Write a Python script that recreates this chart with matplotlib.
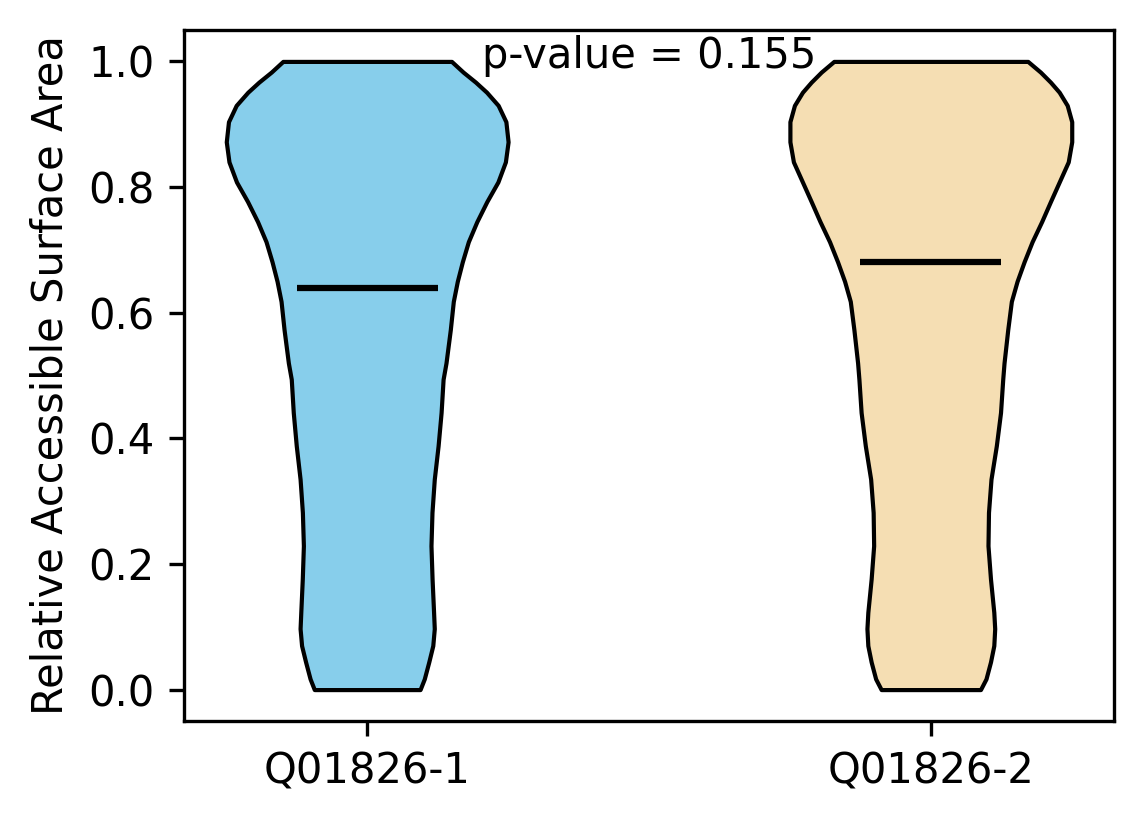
import numpy as np
import matplotlib
matplotlib.use("Agg")
import matplotlib.pyplot as plt

categories = ["Q01826-1", "Q01826-2"]
colors = ["#87CEEB", "#F5DEB3"]

# Violin outlines: y levels and relative half-widths
y1 = [0.000, 0.017, 0.044, 0.070, 0.097, 0.123, 0.176, 0.229, 0.282, 0.335,
      0.388, 0.441, 0.494, 0.520, 0.573, 0.618, 0.650, 0.681, 0.713, 0.745,
      0.777, 0.808, 0.840, 0.872, 0.904, 0.930, 0.951, 0.967, 0.983, 1.000]
w1 = [52.8, 57, 61.5, 65.5, 67, 66.3, 64.8, 63.7, 64.7, 67,
      70.8, 73.8, 75.8, 78.7, 83, 86, 90, 95, 101, 109.5,
      119.5, 130.5, 138, 140.7, 138.5, 130.8, 119.2, 108.2, 95.8, 84.2]

y2 = [0.000, 0.017, 0.044, 0.070, 0.097, 0.123, 0.176, 0.229, 0.282, 0.335,
      0.388, 0.441, 0.494, 0.520, 0.573, 0.618, 0.650, 0.681, 0.713, 0.745,
      0.777, 0.808, 0.840, 0.872, 0.904, 0.930, 0.951, 0.967, 0.983, 1.000]
w2 = [49.5, 55, 59.5, 62.8, 63.7, 62.8, 59.5, 57, 57.5, 60,
      65.3, 69.5, 71.7, 73, 76.7, 80.3, 86, 93, 101, 110.5,
      119.3, 128, 137, 140.5, 140.5, 136, 128, 119.3, 109.3, 96.7]

medians = [0.640, 0.681]
p_value = 0.155

vpstats = []
for ys, ws, med in [(y1, w1, medians[0]), (y2, w2, medians[1])]:
    vpstats.append({
        "coords": np.array(ys),
        "vals": np.array(ws, dtype=float),
        "mean": med,
        "median": med,
        "min": min(ys),
        "max": max(ys),
    })

fig = plt.figure(figsize=(1144 / 300, 824 / 300), dpi=300)
ax = fig.add_axes([184 / 1144, 103 / 824, 930 / 1144, 691 / 824])

parts = ax.violin(vpstats, positions=[1, 2], widths=0.5,
                  showmeans=False, showextrema=False, showmedians=True)
for body, c in zip(parts["bodies"], colors):
    body.set_facecolor(c)
    body.set_edgecolor("black")
    body.set_linewidth(1.0)
    body.set_alpha(1)
    body.set_joinstyle("round")
parts["cmedians"].set_color("black")
parts["cmedians"].set_linewidth(1.5)

ax.set_xticks([1, 2])
ax.set_xticklabels(categories)
ax.set_ylabel("Relative Accessible Surface Area")
ax.text(1.5, 0.989, f"p-value = {p_value:.3f}", ha="center", va="baseline",
        fontsize=10)

fig.savefig("out.png", dpi=300)
